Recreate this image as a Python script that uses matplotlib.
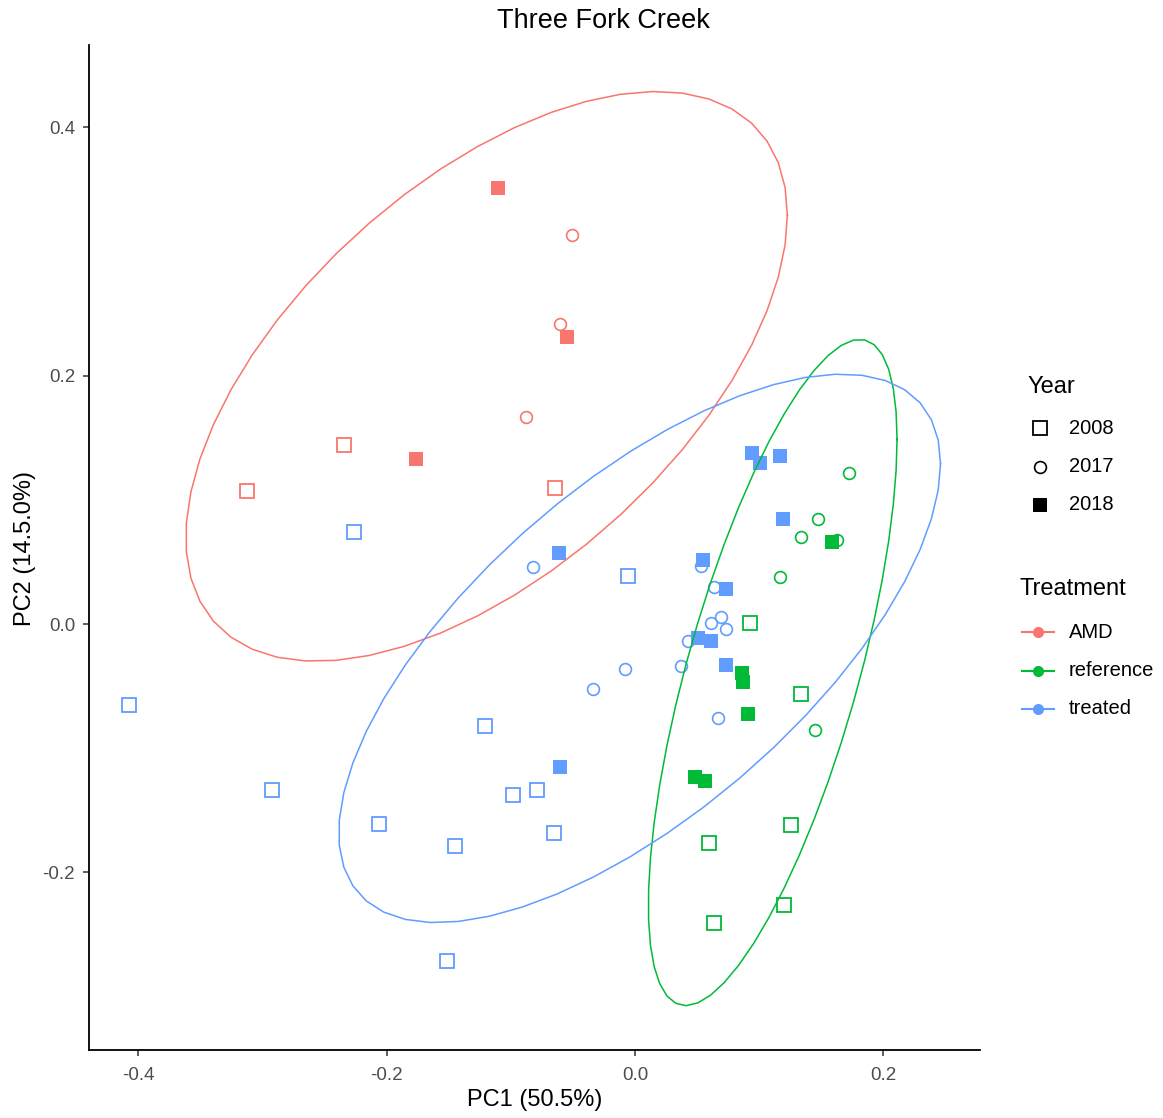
import numpy as np
import matplotlib
matplotlib.use("Agg")
import matplotlib.pyplot as plt
from matplotlib.lines import Line2D

plt.rcParams['font.family'] = ['Liberation Sans', 'DejaVu Sans']

#  ----------------- data
#
treatments = ['AMD', 'reference', 'treated']
years = ['2008', '2017', '2018']
colours = {'AMD': '#F8766D', 'reference': '#00BA38', 'treated': '#619CFF'}

amd_pc1 = [-0.312, -0.234, -0.064, -0.051, -0.060, -0.088, -0.110, -0.055, -0.176]
amd_pc2 = [0.107, 0.144, 0.110, 0.313, 0.242, 0.167, 0.351, 0.231, 0.133]
amd_year = ['2008', '2008', '2008', '2017', '2017', '2017', '2018', '2018', '2018']

ref_pc1 = [0.093, 0.134, 0.126, 0.060, 0.120, 0.064,
           0.172, 0.147, 0.134, 0.117, 0.163, 0.145,
           0.159, 0.086, 0.087, 0.091, 0.048, 0.056]
ref_pc2 = [0.001, -0.056, -0.162, -0.176, -0.226, -0.241,
           0.122, 0.085, 0.070, 0.038, 0.068, -0.085,
           0.066, -0.039, -0.047, -0.072, -0.123, -0.126]
ref_year = ['2008'] * 6 + ['2017'] * 6 + ['2018'] * 6

trt_pc1 = [-0.407, -0.226, -0.006, -0.292, -0.206, -0.121, -0.098, -0.079, -0.145, -0.065, -0.151,
           -0.082, 0.053, 0.064, 0.061, 0.069, 0.073, 0.043, 0.037, -0.008, -0.034, 0.067,
           -0.061, -0.060, 0.094, 0.101, 0.117, 0.119, 0.055, 0.073, 0.051, 0.061, 0.073]
trt_pc2 = [-0.065, 0.074, 0.039, -0.134, -0.161, -0.082, -0.138, -0.134, -0.179, -0.168, -0.271,
           0.046, 0.047, 0.030, 0.001, 0.006, -0.004, -0.014, -0.034, -0.036, -0.052, -0.076,
           0.057, -0.115, 0.138, 0.130, 0.135, 0.085, 0.052, 0.028, -0.011, -0.014, -0.033]
trt_year = ['2008'] * 11 + ['2017'] * 11 + ['2018'] * 11

groups = {'AMD': (amd_pc1, amd_pc2, amd_year),
          'reference': (ref_pc1, ref_pc2, ref_year),
          'treated': (trt_pc1, trt_pc2, trt_year)}


#  ----------------- functions
#
def cov_trob(x, nu=5, maxit=25, tol=0.01):
	# robust multivariate t estimate, as MASS::cov.trob
	n, p = x.shape
	loc = x.mean(axis=0)
	w = np.ones(n)
	for it in range(maxit):
		w0 = w
		X = x - loc
		_, d, vt = np.linalg.svd(np.sqrt(w / w.sum())[:, None] * X, full_matrices=False)
		wX = X @ vt.T @ np.diag(1.0 / d)
		Q = (wX ** 2).sum(axis=1)
		w = (nu + p) / (nu + Q)
		loc = (w[:, None] * x).sum(axis=0) / w.sum()
		if np.all(np.abs(w - w0) < tol):
			break
	cov = (np.sqrt(w)[:, None] * X).T @ (np.sqrt(w)[:, None] * X) / n
	return loc, cov


def stat_ellipse(xs, ys, level=0.95, segments=51):
	data = np.column_stack([xs, ys])
	center, shape = cov_trob(data)
	dfd = len(xs) - 1
	qf = dfd / 2.0 * ((1 - level) ** (-2.0 / dfd) - 1)   # F quantile with dfn = 2
	radius = np.sqrt(2 * qf)
	chol = np.linalg.cholesky(shape).T
	ang = np.arange(segments + 1) * 2 * np.pi / segments
	circ = np.column_stack([np.cos(ang), np.sin(ang)])
	return center + radius * circ @ chol


#  ----------------- plot
#
W, H = 1163, 1118
fig = plt.figure(figsize=(W / 100, H / 100), dpi=100)
ax = fig.add_axes([89 / W, 1 - 1050 / H, (980 - 89) / W, (1050 - 45) / H])

marker_style = {'2008': dict(marker='s', fillstyle='none', ms=10.5, mew=1.3),
                '2017': dict(marker='o', fillstyle='none', ms=8.5, mew=1.2),
                '2018': dict(marker='s', fillstyle='full', ms=9.5, mew=0)}

for yr in years:
	for t in treatments:
		xs, ys, yrs = groups[t]
		sel = [i for i in range(len(xs)) if yrs[i] == yr]
		ax.plot([xs[i] for i in sel], [ys[i] for i in sel], ls='none',
				color=colours[t], **marker_style[yr])

for t in treatments:
	xs, ys, _ = groups[t]
	e = stat_ellipse(xs, ys)
	ax.plot(e[:, 0], e[:, 1], color=colours[t], lw=1.1)

ax.set_xlim(-0.4396, 0.2778)
ax.set_ylim(-0.343, 0.4664)
ax.set_xticks([-0.4, -0.2, 0.0, 0.2])
ax.set_xticklabels(['-0.4', '-0.2', '0.0', '0.2'])
ax.set_yticks([-0.2, 0.0, 0.2, 0.4])
ax.set_yticklabels(['-0.2', '0.0', '0.2', '0.4'])
for s in ['top', 'right']:
	ax.spines[s].set_visible(False)
for s in ['left', 'bottom']:
	ax.spines[s].set_linewidth(1.3)
	ax.spines[s].set_color('black')
ax.tick_params(length=4, width=1.1, color='#333333', labelcolor='#4D4D4D', labelsize=13.5, pad=6)
ax.tick_params(axis='x', pad=8)

fig.text(535 / W, 1 - 1100 / H, 'PC1 (50.5%)', ha='center', va='center', fontsize=17)
fig.text(25 / W, 1 - 548 / H, 'PC2 (14.5.0%)', ha='center', va='center', rotation=90, fontsize=17)
fig.text(603 / W, 1 - 21 / H, 'Three Fork Creek', ha='center', va='center', fontsize=19.5)

# legend: Year
fig.text(1028 / W, 1 - 387 / H, 'Year', ha='left', va='center', fontsize=17)
for yr, ypx in zip(years, [428, 467, 505]):
	fig.add_artist(Line2D([1040 / W], [1 - ypx / H], ls='none', color='black',
						  transform=fig.transFigure, **marker_style[yr]))
	fig.text(1069 / W, 1 - ypx / H, yr, ha='left', va='center', fontsize=14.5)

# legend: Treatment
fig.text(1020 / W, 1 - 589 / H, 'Treatment', ha='left', va='center', fontsize=17)
for t, ypx in zip(treatments, [632, 671, 709]):
	fig.add_artist(Line2D([1022 / W, 1054 / W], [1 - ypx / H] * 2, color=colours[t], lw=1.5,
						  transform=fig.transFigure))
	fig.add_artist(Line2D([1038 / W], [1 - ypx / H], ls='none', marker='o', ms=8, mew=0,
						  color=colours[t], transform=fig.transFigure))
	fig.text(1069 / W, 1 - ypx / H, t, ha='left', va='center', fontsize=14.5)

fig.savefig('out.png', dpi=100)
